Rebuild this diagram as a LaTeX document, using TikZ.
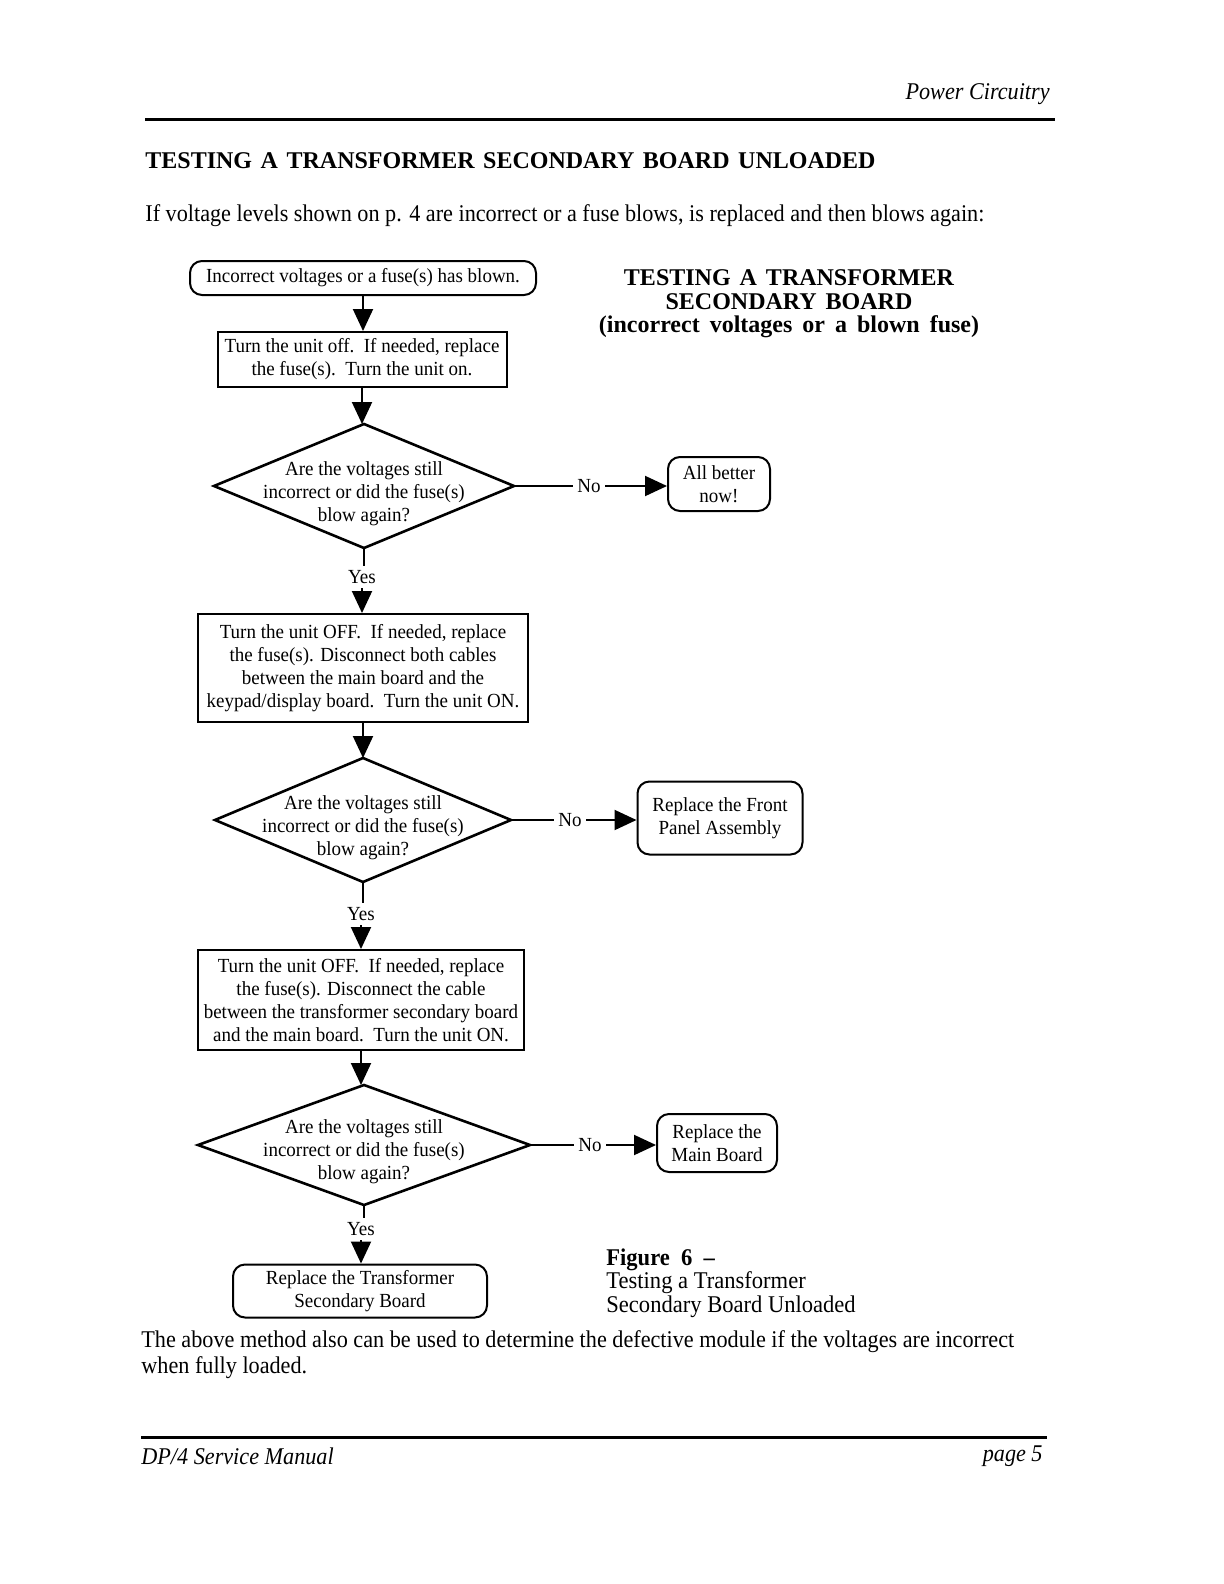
\documentclass[tikz,border=0pt]{standalone}
\usepackage{fontspec}
\setmainfont{Liberation Serif}
\newfontfamily\bodyf[FakeStretch=0.925]{Liberation Serif}
\newfontfamily\capf[FakeStretch=0.94]{Liberation Serif}
\newfontfamily\chartf[FakeStretch=0.95]{Liberation Serif}
\usetikzlibrary{arrows.meta,shapes.geometric}
\begin{document}
\begin{tikzpicture}[x=0.5pt,y=-0.5pt,
  chart/.style={font=\chartf\fontsize{10}{11.5}\selectfont, align=center, inner sep=0pt},
  sbox/.style={chart, draw, line width=1pt},
  rbox/.style={chart, draw, line width=1pt, rounded corners=6pt},
  dia/.style={draw, diamond, line width=1.3pt, inner sep=0pt, outer sep=0pt},
  lab/.style={font=\chartf\fontsize{10}{11.5}\selectfont, inner sep=2pt},
  arr/.style={-{Triangle[length=11pt,width=10pt]}, line width=1pt},
  conn/.style={line width=1pt},
  bodytext/.style={font=\bodyf\fontsize{12}{13}\selectfont, inner sep=0pt},
  rule/.style={line width=1.5pt}]
\useasboundingbox (0,0) rectangle (1224,1584);
\fill[white] (0,0) rectangle (1224,1584);

% header
\node[anchor=east, font=\bodyf\itshape\fontsize{12}{14}\selectfont, inner sep=0pt] (hdr) at (1050,94) {Power Circuitry};
\coordinate (hl) at (145,120); \coordinate (hr) at (1055,120);
\draw[rule] (hl) -- (hr);

\node[anchor=west, font=\bfseries\fontsize{12}{14}\selectfont, inner sep=0pt] (title) at (145,161) {TESTING\hspace{4.3pt}A\hspace{4.3pt}TRANSFORMER\hspace{4.3pt}SECONDARY\hspace{4.3pt}BOARD\hspace{4.3pt}UNLOADED};
\node[anchor=west, bodytext] (intro) at (145,216) {If voltage levels shown on p. 4 are incorrect or a fuse blows, is replaced and then blows again:};

% right title
\node[font=\bfseries\fontsize{12}{11.75}\selectfont, align=center, inner sep=0pt] (rt) at (789,304)
  {TESTING\hspace{4.5pt}A\hspace{4.5pt}TRANSFORMER\\SECONDARY\hspace{4.5pt}BOARD\\(incorrect\hspace{5pt}voltages\hspace{5pt}or\hspace{5pt}a\hspace{5pt}blown\hspace{5pt}fuse)};

% flowchart
\node[rbox, minimum width=173pt, minimum height=17pt] (start) at (363,278) {Incorrect voltages or a fuse(s) has blown.};
\node[sbox, minimum width=144.5pt, minimum height=27.5pt] (b1) at (362,359.5) {Turn the unit off.\ \ If needed, replace\\the fuse(s).\ \ Turn the unit on.};
\node[dia, minimum width=150pt, minimum height=62pt] (d1) at (364,486) {};
\node[chart] (t1) at (364,494) {Are the voltages still\\incorrect or did the fuse(s)\\blow again?};
\node[lab] (no1) at (589,486) {No};
\node[rbox, minimum width=51pt, minimum height=27pt] (ab) at (719,484) {All better\\now!};
\node[lab] (yes1) at (362,577) {Yes};

\node[sbox, minimum width=165pt, minimum height=54pt] (b2) at (363,668) {Turn the unit OFF.\ \ If needed, replace\\the fuse(s). Disconnect both cables\\between the main board and the\\keypad/display board.\ \ Turn the unit ON.};
\node[dia, minimum width=148pt, minimum height=62pt] (d2) at (363,820) {};
\node[chart] (t2) at (363,828) {Are the voltages still\\incorrect or did the fuse(s)\\blow again?};
\node[lab] (no2) at (570,820) {No};
\node[rbox, minimum width=82.5pt, minimum height=36.5pt] (fp) at (720,818) {Replace the Front\\Panel Assembly};
\node[lab] (yes2) at (361,914) {Yes};

\node[sbox, minimum width=163pt, minimum height=50pt] (b3) at (361,1000) {Turn the unit OFF.\ \ If needed, replace\\the fuse(s). Disconnect the cable\\between the transformer secondary board\\and the main board.\ \ Turn the unit ON.};
\node[dia, minimum width=166pt, minimum height=60pt] (d3) at (364,1145) {};
\node[chart] (t3) at (364,1152) {Are the voltages still\\incorrect or did the fuse(s)\\blow again?};
\node[lab] (no3) at (590,1145) {No};
\node[rbox, minimum width=60pt, minimum height=29pt] (mb) at (717,1143) {Replace the\\Main Board};
\node[lab] (yes3) at (361,1229) {Yes};
\node[rbox, minimum width=127pt, minimum height=26.5pt] (fin) at (360,1291) {Replace the Transformer\\Secondary Board};

% connectors
\draw[arr] (start.south) -- (start.south |- b1.north);
\draw[arr] (b1.south) -- (b1.south |- d1.north);
\draw[conn] (d1.south) -- (d1.south |- yes1.north);
\draw[arr] (yes1.south) -- (yes1.south |- b2.north);
\draw[conn] (d1.east) -- (no1.west);
\draw[arr] (no1.east) -- (no1.east -| ab.west);

\draw[arr] (b2.south) -- (b2.south |- d2.north);
\draw[conn] (d2.south) -- (d2.south |- yes2.north);
\draw[arr] (yes2.south) -- (yes2.south |- b3.north);
\draw[conn] (d2.east) -- (no2.west);
\draw[arr] (no2.east) -- (no2.east -| fp.west);

\draw[arr] (b3.south) -- (b3.south |- d3.north);
\draw[conn] (d3.south) -- (d3.south |- yes3.north);
\draw[arr] (yes3.south) -- (yes3.south |- fin.north);
\draw[conn] (d3.east) -- (no3.west);
\draw[arr] (no3.east) -- (no3.east -| mb.west);

% caption
\node[anchor=west, align=left, font=\capf\fontsize{12}{11.75}\selectfont, inner sep=0pt] (cap) at (606,1283) {\textbf{Figure\ \ 6\ \ –}\\Testing a Transformer\\Secondary Board Unloaded};

% closing paragraph
\node[anchor=west, align=left, bodytext] (outro) at (141,1355) {The above method also can be used to determine the defective module if the voltages are incorrect\\when fully loaded.};

% footer
\coordinate (fl) at (141,1437); \coordinate (fr) at (1047,1437);
\draw[rule] (fl) -- (fr);
\node[anchor=west, font=\bodyf\itshape\fontsize{12}{14}\selectfont, inner sep=0pt] (ftl) at (141,1456) {DP/4 Service Manual};
\node[anchor=east, font=\bodyf\itshape\fontsize{12}{14}\selectfont, inner sep=0pt] (ftr) at (1043,1456) {page 5};
\end{tikzpicture}
\end{document}
